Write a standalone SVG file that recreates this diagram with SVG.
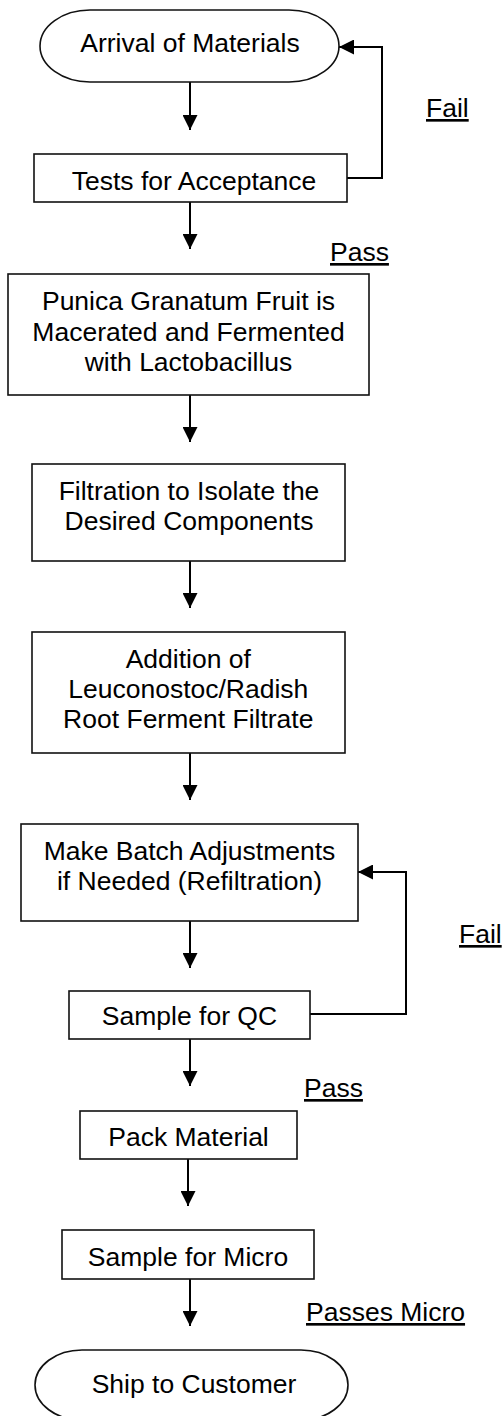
<svg xmlns="http://www.w3.org/2000/svg" width="502" height="1416" viewBox="0 0 502 1416">
<style>
text{font-family:"Liberation Sans",Arial,sans-serif;font-size:26.5px;fill:#000}
.c{text-anchor:middle}
.u{text-decoration:underline}
.n{fill:#fff;stroke:#111;stroke-width:1.6}
.e{fill:none;stroke:#000;stroke-width:2}
</style>
<defs>
<marker id="ah" markerWidth="8" markerHeight="8" refX="8" refY="4" orient="auto" markerUnits="userSpaceOnUse" viewBox="0 0 8 8">
<path d="M0,0 L8,4 L0,8 Z" fill="#000"/>
</marker>
<marker id="ah2" markerWidth="15" markerHeight="15" refX="15" refY="7.5" orient="auto" markerUnits="userSpaceOnUse" viewBox="0 0 15 15">
<path d="M0,0 L15,7.5 L0,15 Z" fill="#000"/>
</marker>
</defs>
<g id="connectors">
<path class="e" d="M190,82 V130" marker-end="url(#ah2)"/>
<path class="e" d="M347,178 H382 V47 H339" marker-end="url(#ah2)"/>
<path class="e" d="M190,202 V249" marker-end="url(#ah2)"/>
<path class="e" d="M190,395 V442" marker-end="url(#ah2)"/>
<path class="e" d="M190,561 V608" marker-end="url(#ah2)"/>
<path class="e" d="M190,753 V800" marker-end="url(#ah2)"/>
<path class="e" d="M190,921 V968" marker-end="url(#ah2)"/>
<path class="e" d="M310,1014 H406 V872 H358" marker-end="url(#ah2)"/>
<path class="e" d="M190,1039 V1086" marker-end="url(#ah2)"/>
<path class="e" d="M188,1159 V1206" marker-end="url(#ah2)"/>
<path class="e" d="M190,1279 V1326" marker-end="url(#ah2)"/>
<text class="u" x="426" y="117">Fail</text>
<text class="u" x="330" y="261">Pass</text>
<text class="u" x="459" y="943">Fail</text>
<text class="u" x="304" y="1097">Pass</text>
<text class="u" x="306" y="1321">Passes Micro</text>
</g>
<g id="n_arrival">
<rect class="n" x="40" y="10" width="299" height="72" rx="50" ry="36"/>
<text class="c" x="190" y="52">Arrival of Materials</text>
</g>
<g id="n_tests">
<rect class="n" x="34" y="154" width="313" height="48"/>
<text class="c" x="194" y="190">Tests for Acceptance</text>
</g>
<g id="n_punica">
<rect class="n" x="8" y="274" width="361" height="121"/>
<text class="c" x="188.5" y="310">Punica Granatum Fruit is</text>
<text class="c" x="188.5" y="341">Macerated and Fermented</text>
<text class="c" x="188.5" y="371">with Lactobacillus</text>
</g>
<g id="n_filtration">
<rect class="n" x="32" y="464" width="313" height="97"/>
<text class="c" x="189" y="500">Filtration to Isolate the</text>
<text class="c" x="189" y="530">Desired Components</text>
</g>
<g id="n_addition">
<rect class="n" x="32" y="632" width="313" height="121"/>
<text class="c" x="188.3" y="668">Addition of</text>
<text class="c" x="188.3" y="698">Leuconostoc/Radish</text>
<text class="c" x="188.3" y="728">Root Ferment Filtrate</text>
</g>
<g id="n_batch">
<rect class="n" x="21" y="824" width="337" height="97"/>
<text class="c" x="189.5" y="860">Make Batch Adjustments</text>
<text class="c" x="189.5" y="890">if Needed (Refiltration)</text>
</g>
<g id="n_qc">
<rect class="n" x="69" y="991" width="241" height="48"/>
<text class="c" x="189.5" y="1025">Sample for QC</text>
</g>
<g id="n_pack">
<rect class="n" x="80" y="1111" width="217" height="48"/>
<text class="c" x="188.5" y="1146">Pack Material</text>
</g>
<g id="n_micro">
<rect class="n" x="62" y="1230" width="252" height="49"/>
<text class="c" x="188" y="1266">Sample for Micro</text>
</g>
<g id="n_ship">
<rect class="n" x="35" y="1350" width="313" height="70" rx="47" ry="35"/>
<text class="c" x="194" y="1393">Ship to Customer</text>
</g>
</svg>
